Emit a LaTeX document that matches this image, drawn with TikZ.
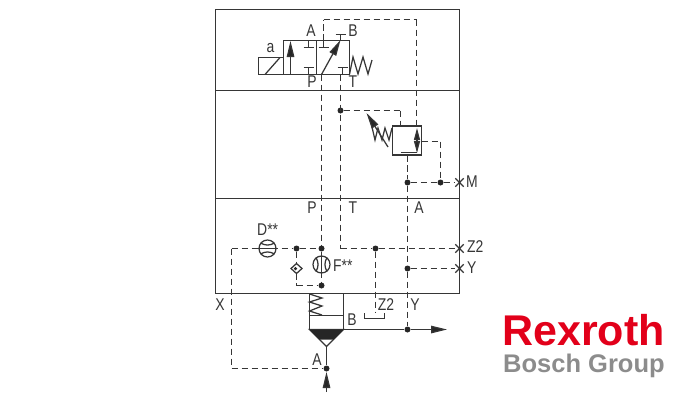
\documentclass[tikz,border=0pt]{standalone}
\usepackage{fontspec}
\setmainfont{Liberation Sans}
\newfontfamily\portfont[FakeStretch=0.82]{Liberation Sans}
\usetikzlibrary{arrows.meta}
\definecolor{linegray}{HTML}{363636}
\definecolor{rexred}{HTML}{E2001A}
\definecolor{boschgray}{HTML}{8C8C8C}
\tikzset{every node/.style={draw=none,inner sep=0pt},
  solidline/.style={draw=linegray,line width=1.25pt},
  pilot/.style={draw=linegray,line width=1.25pt,dash pattern=on 6.5pt off 3.5pt},
  dot/.style={circle,fill=black!85,minimum size=6pt},
  port/.style={font=\portfont\fontsize{17}{17}\selectfont,text=linegray},
  choke/.style={circle,draw=linegray,line width=1.25pt,fill=white,minimum size=17pt},
  head/.style={-{Triangle[length=16pt,width=7.5pt,fill=black!85]}}}

\begin{document}
\begin{tikzpicture}[x=1pt,y=-1pt]
      \useasboundingbox (0,0) rectangle (700,400);
      % housing
      \draw[solidline] (215.5,9.5) rectangle (459.5,293.5);
      \draw[solidline] (215.5,90.5) -- (459.5,90.5);
      \draw[solidline] (215.5,198.5) -- (459.5,198.5);

      % pilot valve
      \draw[solidline] (283.5,40.5) rectangle (349.5,74.5);
      \draw[solidline] (316.5,40.5) -- (316.5,74.5);
      \draw[solidline] (258.5,57.5) rectangle (283.5,74.5);
      \draw[solidline] (265,74.5) -- (280,57.5);
      \draw[solidline,head] (290.5,74.5) -- (290.5,41);
      \draw[solidline,head] (321.5,74.5) -- (340.5,40);
      \draw[solidline] (349.5,74.5) -- (353,57) -- (358,74) -- (363,57) -- (368,74) -- (372,60);
      \foreach \x/\ya/\yb in {308.5/40.5/47.5,323.5/40.5/47.5,308.5/74.5/67.5,342.5/74.5/67.5,340.5/40.5/34.5}
        \draw[solidline] (\x,\ya) -- (\x,\yb) (\x-5,\yb) -- (\x+5,\yb);

      % junctions and bends
      \node[dot] (j1) at (340.5,110.5) {};
      \node[dot] (j2) at (407.5,182.5) {};
      \node[dot] (j3) at (440.5,182.5) {};
      \node[dot] (j4) at (375.5,248.5) {};
      \node[dot] (j5) at (407.5,268.5) {};
      \node[dot] (j6) at (321.5,248.5) {};
      \node[dot] (j7) at (296.5,248.5) {};
      \node[dot] (j8) at (321.5,285.5) {};
      \node[dot] (j9) at (407.5,329.5) {};
      \node[dot] (j10) at (326.5,368.5) {};
      \coordinate (b1) at (323.5,40.5);
      \coordinate (b2) at (323.5,19.5);
      \coordinate (b3) at (416.5,19.5);
      \coordinate (b4) at (416.5,126);
      \coordinate (b5) at (321.5,74.5);
      \coordinate (b6) at (340.5,74.5);
      \coordinate (b7) at (340.5,248.5);
      \coordinate (b8) at (400.5,110.5);
      \coordinate (b9) at (400.5,126);
      \coordinate (b10) at (407.5,155);
      \coordinate (b11) at (421.5,141.5);
      \coordinate (b12) at (440.5,141.5);
      \coordinate (b13) at (375.5,312);
      \coordinate (b14) at (231.5,248.5);
      \coordinate (b15) at (231.5,368.5);
      \coordinate (b16) at (296.5,285.5);
      \coordinate (b17) at (296.5,264);
      \coordinate (b18) at (296.5,273);

      % external ports
      \node[minimum size=8pt] (xm) at (459.5,182.5) {};
      \node[minimum size=8pt] (xz) at (459.5,248.5) {};
      \node[minimum size=8pt] (xy) at (459.5,268.5) {};
      \foreach \a in {xm,xz,xy}
        \draw[solidline] (\a.north west) -- (\a.south east) (\a.north east) -- (\a.south west);

      % relief valve
      \node[draw=linegray,line width=1.4pt,fill=white,minimum width=29pt,minimum height=29pt] (rv) at (406.7,140.5) {};
      \foreach \a/\b in {b1/b2,b2/b3,b3/b4,b5/j6,b6/b7,j1/b8,b8/b9,b10/j2,j2/j5,j5/j9,j2/j3,j3/xm,b11/b12,b12/j3,b7/j4,j4/xz,j5/xy,j4/b13,j6/j8,b14/j7,j7/j6,b14/b15,b15/j10,j7/b17,b18/b16,b16/j8}
        \draw[pilot] (\a) -- (\b);
      \draw[solidline] (400.5,152.5) -- (417,152.5);
      \draw[solidline,{Triangle[length=12pt,width=6pt,fill=black!85]}-{Triangle[length=12pt,width=6pt,fill=black!85]}] (417,128) -- (417,153);
      \draw[solidline] (392,128) -- (389,140) -- (385,128) -- (382,140) -- (378,128) -- (375,140) -- (372,127);
      \draw[solidline,head] (388,147) -- (366.5,113);

      % chokes and check valve
      \node[choke] (chd) at (267.5,248.5) {};
      \node[choke] (chf) at (321.5,264.5) {};
      \draw[solidline] (chd.west) -- (chd.east);
      \draw[solidline] (chf.north) -- (chf.south);
      \draw[solidline] (260.5,243) to[bend right=30] (274.5,243);
      \draw[solidline] (260.5,254) to[bend left=30] (274.5,254);
      \draw[solidline] (316,257.5) to[bend left=30] (316,271.5);
      \draw[solidline] (327,257.5) to[bend right=30] (327,271.5);
      \draw[solidline,fill=white] (296.5,263.5) -- (302,268.5) -- (296.5,273.5) -- (291,268.5) -- cycle;
      \node[dot,minimum size=3.5pt] (chk) at (295.5,268.5) {};

      % main cartridge
      \draw[solidline] (309.5,293.5) -- (309.5,329.5) (343.5,293.5) -- (343.5,329.5);
      \draw[solidline] (309.5,315.5) -- (343.5,315.5);
      \draw[solidline] (309.5,294) -- (322,298) -- (309.5,302) -- (322,306) -- (309.5,311) -- (322,315);
      \draw[solidline] (309.5,329.5) -- (326.5,346.5) -- (343.5,329.5) -- cycle;
      \fill[black!85] (309.5,329.5) -- (343.5,329.5) -- (333.5,339.5) -- (319.5,339.5) -- cycle;
      \coordinate (b19) at (326.5,346.5);
      \coordinate (b20) at (326.5,392);
      \coordinate (b21) at (343.5,329.5);
      \coordinate (b22) at (447,329.5);
      \coordinate (b23) at (326.5,372);
      \draw[solidline] (b19) -- (j10);
      \draw[solidline,head] (b20) -- (b23);
      \draw[solidline] (b21) -- (j9);
      \draw[solidline,head] (j9) -- (b22);
      \draw[solidline] (364.5,313) -- (364.5,318.5) -- (384.5,318.5) -- (384.5,313);

      % labels
      \node[port] (la) at (311,31) {A};
      \node[port] (lb) at (353,31) {B};
      \node[port] (lp) at (312,82) {P};
      \node[port] (lt) at (353,82) {T};
      \node[port] (lsol) at (270.5,48) {a};
      \node[port] (lm) at (472,182) {M};
      \node[port] (lpp) at (312,208) {P};
      \node[port] (ltt) at (353,208) {T};
      \node[port] (laa) at (419,208) {A};
      \node[port,anchor=west] (lz) at (467,247) {Z2};
      \node[port,anchor=west] (ly) at (467,268) {Y};
      \node[port] (lx) at (220,305) {X};
      \node[port] (lyy) at (415,305) {Y};
      \node[port] (lzz) at (386,305) {Z2};
      \node[port] (lbb) at (352,320) {B};
      \node[port] (laaa) at (317,360) {A};
      \node[port,anchor=west] (ld) at (257,230) {D**};
      \node[port,anchor=west] (lf) at (333,266) {F**};

      % logo
      \node[anchor=base west,text=rexred,font=\fontsize{43}{43}\selectfont\bfseries] (rex) at (502,345) {Rexroth};
      \node[anchor=base west,text=boschgray,font=\fontsize{25.5}{26}\selectfont\bfseries] (bg) at (503,372) {Bosch Group};
    \end{tikzpicture}
\end{document}
